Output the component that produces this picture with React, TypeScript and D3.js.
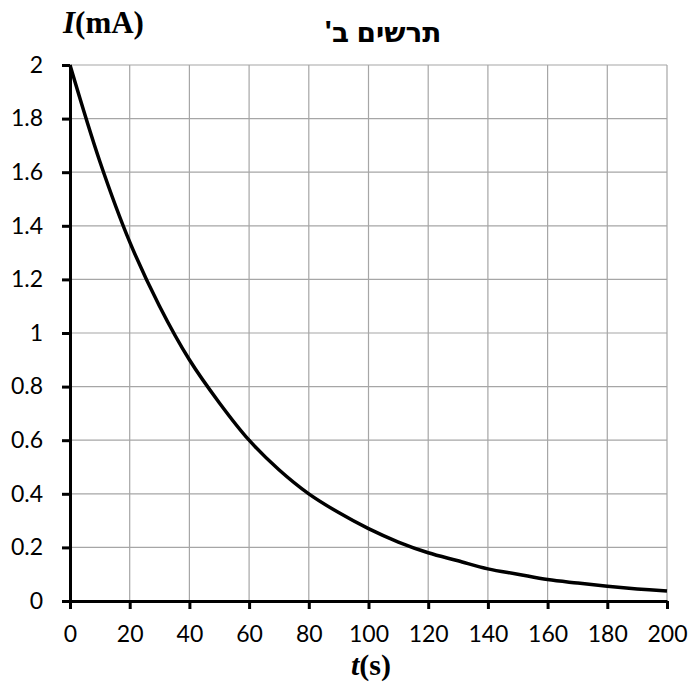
import React, { useEffect, useRef } from "react";
import * as d3 from "d3";

// values
const times = [0, 10, 20, 30, 40, 50, 60, 70, 80, 90, 100, 110, 120, 130, 140, 150, 160, 170, 180, 190, 200];
const currents = [2.0, 1.64, 1.34, 1.1, 0.9, 0.74, 0.6, 0.49, 0.4, 0.33, 0.27, 0.22, 0.18, 0.15, 0.12, 0.1, 0.08, 0.067, 0.055, 0.045, 0.037];
const xTicks = [0, 20, 40, 60, 80, 100, 120, 140, 160, 180, 200];
const yTicks = [0, 0.2, 0.4, 0.6, 0.8, 1, 1.2, 1.4, 1.6, 1.8, 2];
const title = "תרשים ב'";

const App = () => {
  const svgRef = useRef<SVGSVGElement>(null);

  useEffect(() => {
    const svg = d3.select(svgRef.current);
    svg.selectAll("*").remove();

    const width = 689, height = 684;
    const margin = { top: 65, right: 22, bottom: 83, left: 70 };

    const x = d3.scaleLinear().domain([0, 200]).range([margin.left, width - margin.right]);
    const y = d3.scaleLinear().domain([0, 2]).range([height - margin.bottom, margin.top]);

    const labelFont = "Lato, 'Open Sans', sans-serif";

    // grid
    svg.append("g")
      .selectAll("line")
      .data(xTicks.slice(1))
      .join("line")
      .attr("x1", d => x(d)).attr("x2", d => x(d))
      .attr("y1", y(0)).attr("y2", y(2))
      .attr("stroke", "#a6a6a6").attr("stroke-width", 1.2);

    svg.append("g")
      .selectAll("line")
      .data(yTicks.slice(1))
      .join("line")
      .attr("x1", x(0)).attr("x2", x(200))
      .attr("y1", d => y(d)).attr("y2", d => y(d))
      .attr("stroke", "#a6a6a6").attr("stroke-width", 1.2);

    // axes
    const xAxis = svg.append("g")
      .attr("transform", `translate(0,${y(0)})`)
      .call(d3.axisBottom(x).tickValues(xTicks).tickSize(8).tickSizeOuter(0).tickPadding(17).tickFormat(d => String(d)));
    xAxis.attr("font-family", labelFont).attr("font-size", 23);
    xAxis.select(".domain").attr("stroke", "#000").attr("stroke-width", 3);
    xAxis.selectAll(".tick line").attr("stroke", "#000").attr("stroke-width", 3);
    xAxis.selectAll("text").style("font-size", "23px").style("font-family", labelFont).attr("fill", "#000");

    const yAxis = svg.append("g")
      .attr("transform", `translate(${x(0)},0)`)
      .call(d3.axisLeft(y).tickValues(yTicks).tickSize(8).tickSizeOuter(0).tickPadding(19).tickFormat(d => String(d)));
    yAxis.attr("font-family", labelFont).attr("font-size", 23);
    yAxis.select(".domain").attr("stroke", "#000").attr("stroke-width", 3);
    yAxis.selectAll(".tick line").attr("stroke", "#000").attr("stroke-width", 3);
    yAxis.selectAll("text").style("font-size", "23px").style("font-family", labelFont).attr("fill", "#000");

    // curve
    const line = d3.line<number>()
      .x((_, i) => x(times[i]))
      .y(d => y(d))
      .curve(d3.curveCatmullRom.alpha(0.5));

    svg.append("path")
      .datum(currents)
      .attr("d", line)
      .attr("fill", "none")
      .attr("stroke", "#000")
      .attr("stroke-width", 3.5);

    // titles
    svg.append("text")
      .attr("x", 383).attr("y", 42)
      .attr("text-anchor", "middle")
      .attr("direction", "rtl")
      .attr("unicode-bidi", "embed")
      .style("font-family", "'Noto Sans', 'DejaVu Sans', sans-serif")
      .style("font-weight", "bold")
      .style("font-size", "28px")
      .text(title);

    const yLabel = svg.append("text")
      .attr("x", 63).attr("y", 33)
      .style("font-family", "'Liberation Serif', serif")
      .style("font-weight", "bold")
      .style("font-size", "31px");
    yLabel.append("tspan").attr("font-style", "italic").text("I");
    yLabel.append("tspan").text("(mA)");

    const xLabel = svg.append("text")
      .attr("x", 371).attr("y", 675)
      .attr("text-anchor", "middle")
      .style("font-family", "'Liberation Serif', serif")
      .style("font-weight", "bold")
      .style("font-size", "30px");
    xLabel.append("tspan").attr("font-style", "italic").text("t");
    xLabel.append("tspan").text("(s)");
  }, []);

  return (
    <div style={{ position: "absolute", left: 0, top: 0, background: "#fff" }}>
      <svg ref={svgRef} width={689} height={684}></svg>
    </div>
  );
};

export default App;
